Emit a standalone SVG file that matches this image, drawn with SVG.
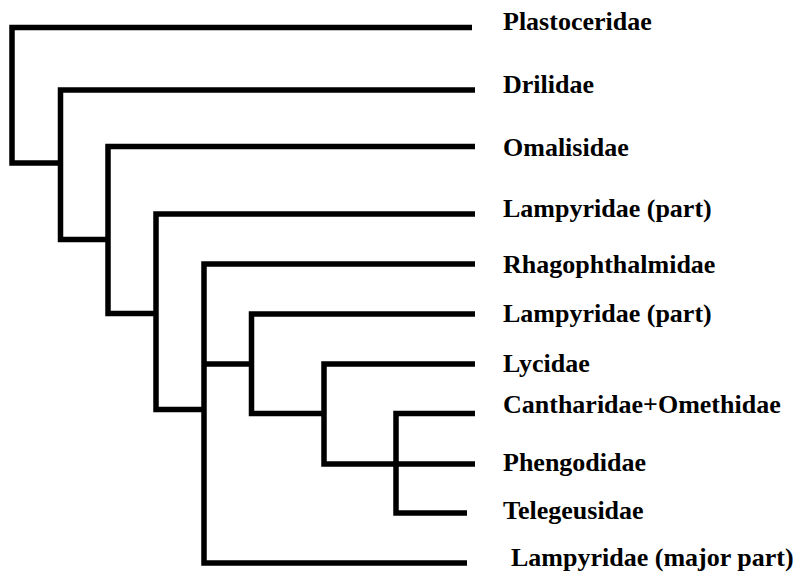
<svg xmlns="http://www.w3.org/2000/svg" width="804" height="575" viewBox="0 0 804 575">
<style>
.e{fill:none;stroke:#000;stroke-width:5.5;stroke-linejoin:miter;stroke-linecap:butt}
.t{font-family:"Liberation Serif","Times New Roman",serif;font-weight:bold;font-size:26px;fill:#000}
</style>
<rect width="804" height="575" fill="#fff"/>
<g id="connectors">
<path class="e" d="M472,27.5 H12 V163 H60.5"/>
<path class="e" d="M475,90 H60.5 V239.5 H108"/>
<path class="e" d="M475,146.5 H108 V313.5 H156"/>
<path class="e" d="M475,214 H156 V409.5 H204"/>
<path class="e" d="M475,264 H204 V563 H467"/>
<path class="e" d="M204,364 H251.5"/>
<path class="e" d="M475,314 H251.5 V413.5 H324"/>
<path class="e" d="M475,364 H324 V464 H475"/>
<path class="e" d="M475,413.5 H396 V513 H467"/>
</g>
<g id="plastoceridae"><text class="t" x="503" y="30">Plastoceridae</text></g>
<g id="drilidae"><text class="t" x="503" y="93">Drilidae</text></g>
<g id="omalisidae"><text class="t" x="503" y="156">Omalisidae</text></g>
<g id="lampyridae-part-1"><text class="t" x="503" y="217">Lampyridae (part)</text></g>
<g id="rhagophthalmidae"><text class="t" x="503" y="273">Rhagophthalmidae</text></g>
<g id="lampyridae-part-2"><text class="t" x="503" y="322">Lampyridae (part)</text></g>
<g id="lycidae"><text class="t" x="503" y="372">Lycidae</text></g>
<g id="cantharidae-omethidae"><text class="t" x="503" y="413">Cantharidae+Omethidae</text></g>
<g id="phengodidae"><text class="t" x="503" y="471">Phengodidae</text></g>
<g id="telegeusidae"><text class="t" x="503" y="519">Telegeusidae</text></g>
<g id="lampyridae-major"><text class="t" x="511" y="566">Lampyridae (major part)</text></g>
</svg>
